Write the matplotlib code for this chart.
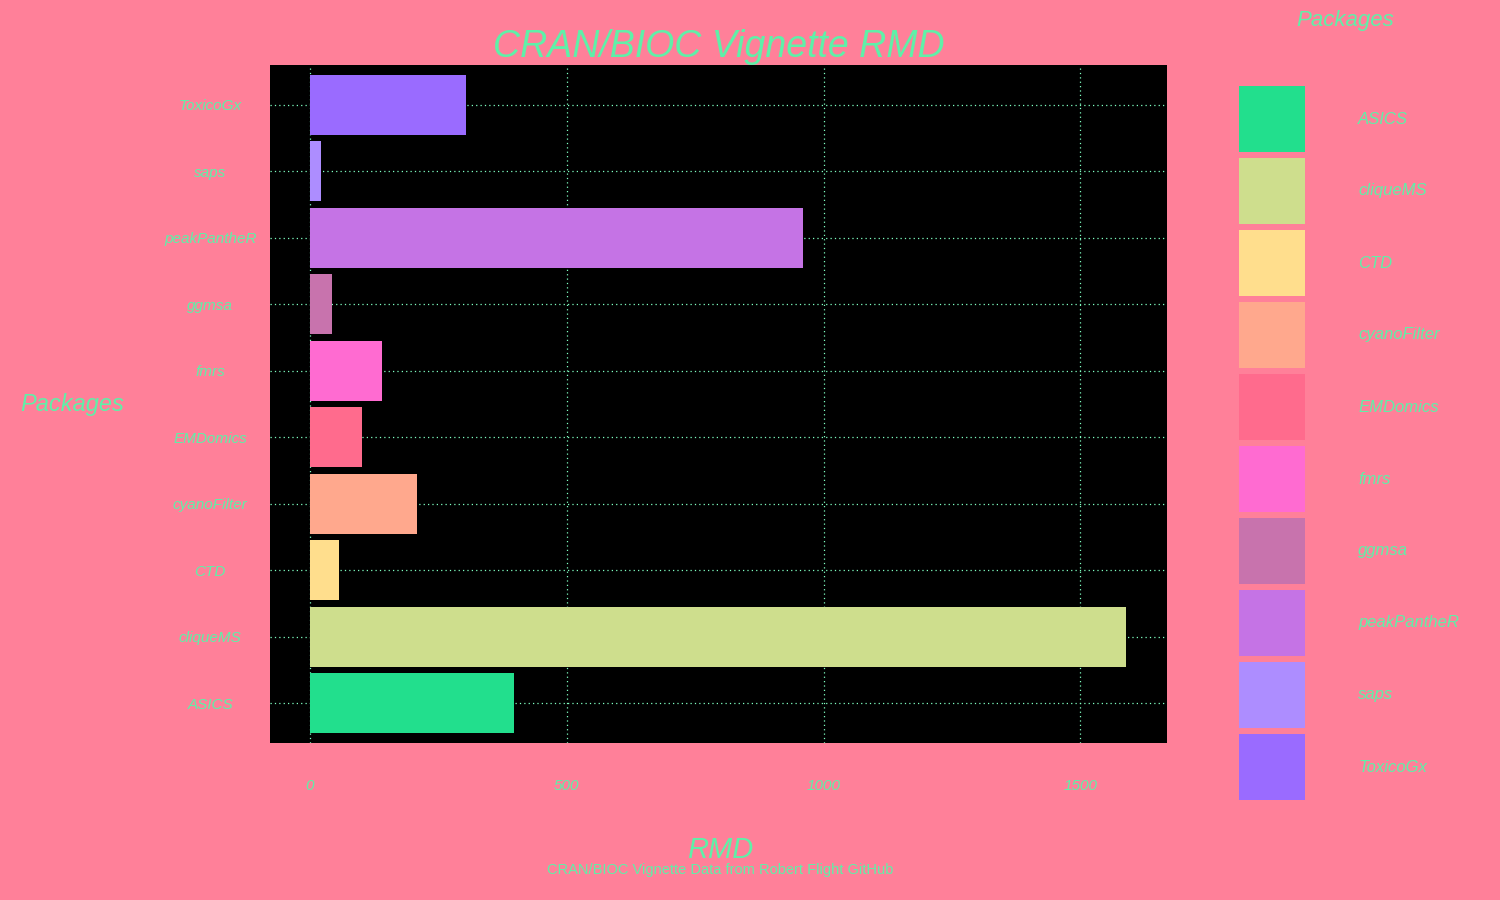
import matplotlib
matplotlib.use("Agg")
import matplotlib.pyplot as plt
from matplotlib.patches import Rectangle

# data
packages = ["ASICS", "cliqueMS", "CTD", "cyanoFilter", "EMDomics",
            "fmrs", "ggmsa", "peakPantheR", "saps", "ToxicoGx"]
rmd = [397, 1589, 56, 208, 101, 140, 43, 960, 21, 304]
colors = ["#22DF8D", "#CEDE8D", "#FFDE8D", "#FFA88D", "#FF6B8D",
          "#FF6BD1", "#C873AD", "#C573E5", "#AD8DFF", "#9A6BFF"]
xticks = [0, 500, 1000, 1500]

bg = "#FF8099"
fg = "#5FF0A8"
hand = ["Liberation Sans", "DejaVu Sans"]

fig = plt.figure(figsize=(15, 9), dpi=100, facecolor=bg)
ax = fig.add_axes([0.18, 0.1744, 0.598, 0.7534])
ax.set_facecolor("black")

ax.barh(range(len(packages)), rmd, height=0.9, color=colors, zorder=2)

ax.set_xlim(-78, 1669)
ax.set_ylim(-0.6, len(packages) - 0.4)
ax.set_xticks(xticks)
ax.set_xticklabels([str(t) for t in xticks], family=hand, style="italic",
                   fontsize=11, color=fg)
ax.set_yticks(range(len(packages)))
ax.set_yticklabels(packages, family=hand, style="italic", fontsize=11,
                   color=fg, ha="center")
ax.tick_params(axis="y", length=0, pad=43)
ax.tick_params(axis="x", length=0, pad=26)
ax.grid(True, color="#7FFFC0", linestyle=(0, (1, 2.5)), linewidth=0.9,
        zorder=1)
ax.set_axisbelow(True)
for s in ax.spines.values():
    s.set_visible(False)

ax.set_title("CRAN/BIOC Vignette RMD", family=hand, style="italic",
             fontsize=27, color=fg, pad=1)
fig.text(0.048, 0.55, "Packages", family=hand, style="italic",
         fontsize=17, color=fg, ha="center", va="center")
fig.text(0.48, 0.055, "RMD", family=hand, style="italic",
         fontsize=21, color=fg, ha="center", va="center")
fig.text(0.48, 0.033, "CRAN/BIOC Vignette Data from Robert Flight GitHub",
         family="Liberation Sans", fontsize=10.5, color=fg,
         ha="center", va="center")

# legend, drawn by hand so the keys are square
fig.text(0.897, 0.977, "Packages", family=hand, style="italic",
         fontsize=16, color=fg, ha="center", va="center")
W, H = fig.get_size_inches() * fig.dpi
key, pitch, top, kx, tx = 66, 72, 86, 1239, 1358
for i, (name, c) in enumerate(zip(packages, colors)):
    y = top + i * pitch
    fig.patches.append(Rectangle((kx / W, 1 - (y + key) / H), key / W,
                                 key / H, transform=fig.transFigure,
                                 facecolor=c, edgecolor="none"))
    fig.text(tx / W, 1 - (y + key / 2) / H, name, family=hand,
             style="italic", fontsize=12, color=fg, ha="left", va="center")

fig.savefig("out.png", dpi=100, facecolor=bg)
